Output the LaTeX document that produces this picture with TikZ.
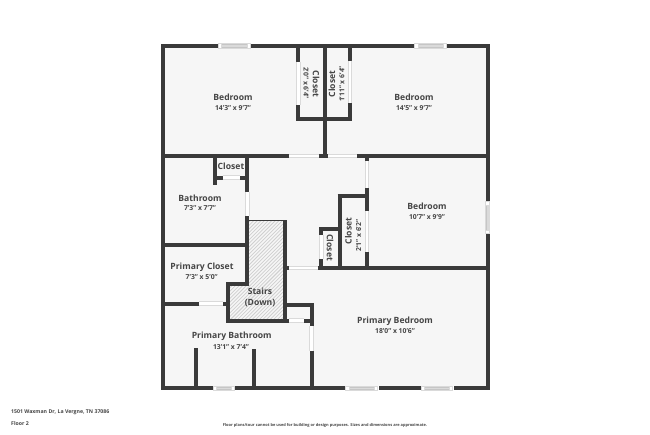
\documentclass[tikz,border=0pt]{standalone}
\usepackage{fontspec}
\setmainfont{Open Sans}
\definecolor{wallc}{HTML}{3A3A3A}
\definecolor{floorc}{HTML}{F6F6F6}
\definecolor{edgec}{HTML}{DADADA}
\definecolor{hatchc}{HTML}{CFCFCF}
\definecolor{txtc}{HTML}{454545}
\tikzset{
  wall/.style={draw=wallc,line width=4pt,line cap=butt},
  thinwall/.style={draw=wallc,line width=1.1pt},
  doorA/.style={draw=white,line width=3.6pt},
  doorB/.style={draw=edgec,line width=.5pt},
  winB/.style={draw=white,fill=white},
  winC/.style={fill=edgec,draw=gray!45,line width=.3pt},
  hatchl/.style={draw=hatchc,line width=.75pt},
  roomname/.style={text=txtc,font=\fontsize{8.6}{10}\selectfont\bfseries,inner sep=0pt,anchor=center},
  roomdim/.style={text=txtc,font=\fontsize{6.8}{8}\selectfont\bfseries,inner sep=0pt,anchor=center},
  foot/.style={text=txtc,font=\fontsize{5.2}{6}\selectfont\bfseries,inner sep=0pt},
  footsmall/.style={text=txtc,font=\fontsize{3.95}{6}\selectfont\bfseries,inner sep=0pt}
}
\newcommand{\winH}[3]{%
  \draw[winB] (#1,#3-2.2) rectangle (#2,#3+2.2);
  \draw[winC] (#1+3.2,#3-1.3) rectangle (#2-3.2,#3+1.3);
  \draw[doorB] (#1,#3-2.2) rectangle (#2,#3+2.2);
  \draw[doorB] (#1+3.2,#3-2.2) -- (#1+3.2,#3+2.2) (#2-3.2,#3-2.2) -- (#2-3.2,#3+2.2);}
\newcommand{\doorH}[3]{%
  \draw[doorA] (#1,#3) -- (#2,#3);
  \draw[doorB] (#1,#3-1.9) -- (#2,#3-1.9) (#1,#3+1.9) -- (#2,#3+1.9);}
\newcommand{\doorV}[3]{%
  \draw[doorA] (#3,#1) -- (#3,#2);
  \draw[doorB] (#3-1.9,#1) -- (#3-1.9,#2) (#3+1.9,#1) -- (#3+1.9,#2);}
\begin{document}
\begin{tikzpicture}[x=1pt,y=-1pt]
\useasboundingbox (0,0) rectangle (650,434);
\fill[white] (0,0) rectangle (650,434);
\fill[floorc] (162.7,45.7) rectangle (487.5,388.3);
% stairs hatch
\begin{scope}
\clip (249,220.5) -- (285,220.5) -- (285,320) -- (228.3,320) -- (228.3,283.5) -- (249,283.5) -- cycle;
\foreach \k in {0,...,50} {
  \draw[hatchl] (228+\k*3.6,322) -- (228+\k*3.6+105,217);
  \draw[hatchl] (228-\k*3.6,322) -- (228-\k*3.6+105,217);
}
\end{scope}
\draw[thinwall] (247.3,220.5) -- (285,220.5);
% outer walls
\draw[wall,line cap=rect] (162.7,45.7) rectangle (487.5,388.3);
% upper band
\draw[wall] (162.7,155.7) -- (289.3,155.7);
\draw[wall] (319,155.7) -- (328.3,155.7);
\draw[wall] (356.7,155.7) -- (487.5,155.7);
\draw[wall] (298,45.7) -- (298,61.7);
\draw[wall] (298,105) -- (298,121.3);
\draw[wall] (296,119.3) -- (351.7,119.3);
\draw[wall] (324.7,45.7) -- (324.7,155.7);
\draw[wall] (349.7,45.7) -- (349.7,60.7);
\draw[wall] (349.7,102.7) -- (349.7,121.3);
% bathroom closet
\draw[wall] (215.3,155.7) -- (215.3,185);
\draw[wall] (215.3,177.5) -- (222.7,177.5);
\draw[wall] (240,177.5) -- (247.3,177.5);
\draw[wall] (247.3,155.7) -- (247.3,191.7);
\draw[wall] (247.3,215.7) -- (247.3,285.5);
\draw[wall] (162.7,244.5) -- (247.3,244.5);
% stairs walls
\draw[wall] (249.3,283.5) -- (226.3,283.5);
\draw[wall] (228.3,283.5) -- (228.3,322.5);
\draw[wall] (226.3,320.5) -- (289.3,320.5);
\draw[wall] (303.7,320.5) -- (313.5,320.5);
\draw[wall] (285.2,220) -- (285.2,320.5);
\draw[wall] (162.7,303.5) -- (199,303.5);
\draw[wall] (223.3,303.5) -- (228.3,303.5);
\draw[wall] (285.2,304.8) -- (313.5,304.8);
\draw[wall] (311.5,302.8) -- (311.5,326);
\draw[wall] (311.5,350.7) -- (311.5,388.3);
\draw[wall] (196.3,348.3) -- (196.3,388.3);
\draw[wall] (254,349.3) -- (254,388.3);
% right-hand closets
\draw[wall] (285.2,267.8) -- (289,267.8);
\draw[wall] (317.7,267.8) -- (487.5,267.8);
\draw[wall] (339.7,194) -- (339.7,267.8);
\draw[wall] (337.7,196) -- (368.7,196);
\draw[wall] (366.7,155.7) -- (366.7,161);
\draw[wall] (366.7,187.7) -- (366.7,211);
\draw[wall] (366.7,252.3) -- (366.7,267.8);
\draw[wall] (319.3,229) -- (339.7,229);
\draw[wall] (321.3,227) -- (321.3,235);
\draw[wall] (321.3,259.3) -- (321.3,267.8);
% doors
\doorH{289.3}{319}{155.7}
\doorH{328.3}{356.7}{155.7}
\doorV{61.7}{105}{298}
\doorV{60.7}{102.7}{349.7}
\doorH{222.7}{240}{177.5}
\doorV{191.7}{215.7}{247.3}
\doorH{199}{223.3}{303.5}
\doorH{289.3}{303.7}{320.5}
\doorV{326}{350.7}{311.5}
\doorH{289}{317.7}{267.8}
\doorV{161}{187.7}{366.7}
\doorV{211}{252.3}{366.7}
\doorV{235}{259.3}{321.3}
% windows
\winH{218.3}{250.3}{45.7}
\winH{414.7}{446}{45.7}
\winH{213.3}{234}{388.3}
\winH{345.7}{377.7}{388.3}
\winH{421}{452.7}{388.3}
\draw[winB] (485.3,201.7) rectangle (489.7,233.3);
\draw[winC] (486.2,204.9) rectangle (488.8,230.1);
\draw[doorB] (485.3,201.7) rectangle (489.7,233.3);
\draw[doorB] (485.3,204.9) -- (489.7,204.9) (485.3,230.1) -- (489.7,230.1);
% labels
\node[roomname] (n1) at (233,97.7) {Bedroom};
\node[roomdim] (d1) at (233,107.7) {14'3" x 9'7"};
\node[roomname] (n2) at (414,97.5) {Bedroom};
\node[roomdim] (d2) at (414,107.7) {14'5" x 9'7"};
\node[roomname,rotate=-90] (n3) at (316,84) {Closet};
\node[roomdim,rotate=-90] (d3) at (306,83) {2'0" x 6'4"};
\node[roomname,rotate=90] (n4) at (332,84) {Closet};
\node[roomdim,rotate=90] (d4) at (342,84) {1'11" x 6'4"};
\node[roomname] (n5) at (231,166.7) {Closet};
\node[roomname] (n6) at (200,198) {Bathroom};
\node[roomdim] (d6) at (200,208) {7'3" x 7'7"};
\node[roomname] (n7) at (202,267) {Primary Closet};
\node[roomdim] (d7) at (201.7,276.7) {7'3" x 5'0"};
\node[roomname] (n8) at (427,206.7) {Bedroom};
\node[roomdim] (d8) at (427,216.7) {10'7" x 9'9"};
\node[roomname,rotate=90] (n9) at (348.3,231) {Closet};
\node[roomdim,rotate=90] (d9) at (358.7,235.7) {2'1" x 6'2"};
\node[roomname,rotate=-90] (n10) at (330,247.7) {Closet};
\node[roomname] (n11) at (260,291.7) {Stairs};
\node[roomname] (n11b) at (260,302.7) {(Down)};
\node[roomname] (n12) at (231.7,336.7) {Primary Bathroom};
\node[roomdim] (d12) at (231,346.7) {13'1" x 7'4"};
\node[roomname] (n13) at (395,321.3) {Primary Bedroom};
\node[roomdim] (d13) at (395,331.3) {18'0" x 10'6"};
\node[foot,anchor=west] (f1) at (11,412.3) {1501 Waxman Dr, La Vergne, TN 37086};
\node[foot,anchor=west] (f2) at (11,423.5) {Floor 2};
\node[footsmall] (f3) at (325,425.3) {Floor plans/tour cannot be used for building or design purposes. Sizes and dimensions are approximate.};
\end{tikzpicture}
\end{document}
